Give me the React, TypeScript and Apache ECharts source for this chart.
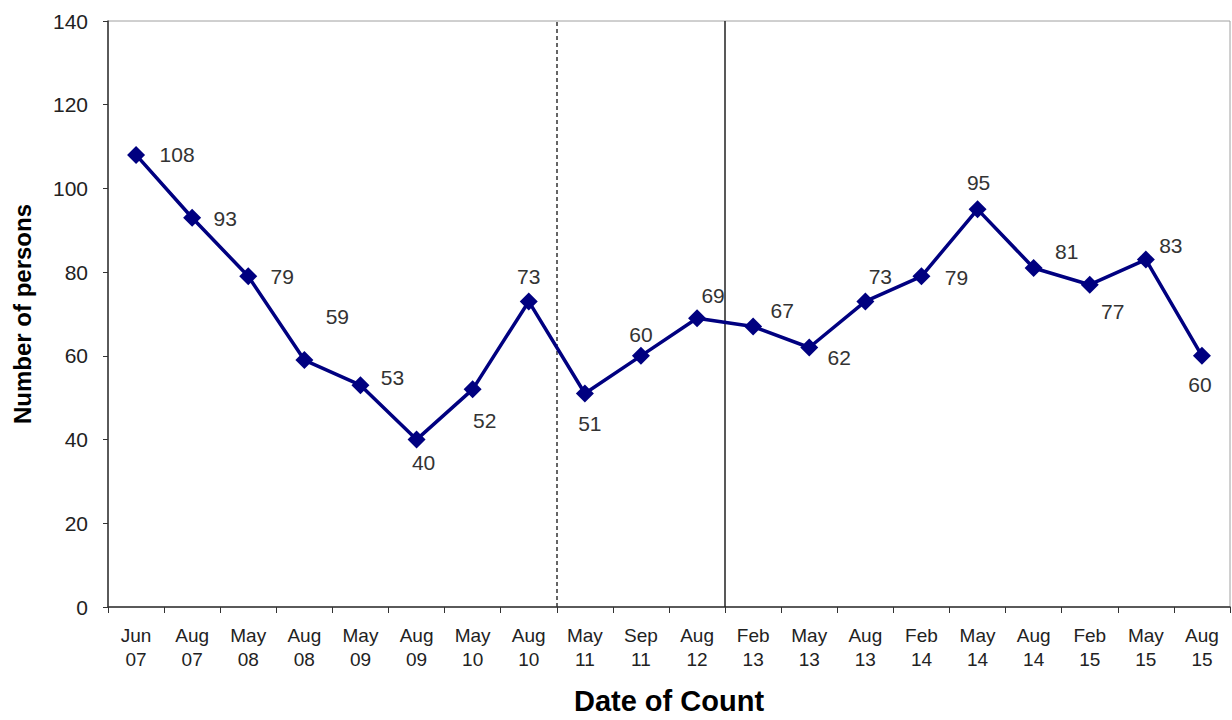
import React, { useEffect, useRef } from "react";
import * as echarts from "echarts";

const categories = [
  "Jun 07", "Aug 07", "May 08", "Aug 08", "May 09", "Aug 09", "May 10", "Aug 10",
  "May 11", "Sep 11", "Aug 12", "Feb 13", "May 13", "Aug 13", "Feb 14", "May 14",
  "Aug 14", "Feb 15", "May 15", "Aug 15",
];
const persons = [108, 93, 79, 59, 53, 40, 52, 73, 51, 60, 69, 67, 62, 73, 79, 95, 81, 77, 83, 60];
const labelOffsets: [number, number][] = [
  [41, 0], [33, 1], [34, 0], [33, -44], [32, -8], [7, 23], [12, 31], [0, -25],
  [5, 30], [0, -21], [16, -23], [29, -16], [30, 10], [15, -25], [35, 1], [1, -27],
  [33, -16], [23, 27], [25, -14], [-2, 29],
];
const yTicks = { min: 0, max: 140, interval: 20 };
const dividers = [8, 11];

const FONT = "'Liberation Sans', Arial, sans-serif";

export default function App() {
  const ref = useRef<HTMLDivElement>(null);
  useEffect(() => {
    if (!ref.current) return;
    const chart = echarts.init(ref.current, null, { renderer: "svg" });
    chart.setOption({
      animation: false,
      backgroundColor: "#ffffff",
      textStyle: { fontFamily: FONT },
      grid: {
        left: 108, right: 2, top: 21, bottom: 104, containLabel: false,
        show: true, borderColor: "#a0a0a0", borderWidth: 1, backgroundColor: "transparent",
      },
      xAxis: [
        {
          type: "category",
          data: categories,
          boundaryGap: true,
          axisLine: { show: true, lineStyle: { color: "#333", width: 1.5 } },
          axisTick: { show: true, length: 6, lineStyle: { color: "#333" } },
          axisLabel: {
            interval: 0, fontSize: 19, color: "#222", lineHeight: 24, margin: 16,
            fontFamily: FONT,
            formatter: (v: string) => v.replace(" ", "\n"),
          },
          name: "Date of Count",
          nameLocation: "middle",
          nameGap: 79,
          nameTextStyle: { fontSize: 29, fontWeight: "bold", color: "#000", fontFamily: FONT },
          splitLine: { show: false },
        },
        { type: "value", min: 0, max: categories.length, show: false, gridIndex: 0 },
      ],
      yAxis: {
        type: "value",
        min: yTicks.min, max: yTicks.max, interval: yTicks.interval,
        axisLine: { show: true, lineStyle: { color: "#333", width: 1.5 } },
        axisTick: { show: true, length: 5, lineStyle: { color: "#333" } },
        axisLabel: { fontSize: 21, color: "#222", margin: 20, fontFamily: FONT },
        splitLine: { show: false },
        name: "Number of persons",
        nameLocation: "middle",
        nameGap: 74,
        nameTextStyle: { fontSize: 24, fontWeight: "bold", color: "#000", fontFamily: FONT },
      },
      series: [
        {
          type: "line",
          xAxisIndex: 0,
          data: persons.map((v, i) => ({ value: v, label: { offset: labelOffsets[i] } })),
          symbol: "diamond",
          symbolSize: 18,
          lineStyle: { color: "#000080", width: 3.5 },
          itemStyle: { color: "#000080" },
          label: {
            show: true, position: "inside", fontSize: 21, color: "#333",
            fontFamily: FONT, align: "center", verticalAlign: "middle",
          },
          z: 5,
        },
        {
          type: "line",
          xAxisIndex: 1,
          data: [],
          silent: true,
          markLine: {
            silent: true,
            symbol: ["none", "none"],
            label: { show: false },
            data: [
              { xAxis: dividers[0], lineStyle: { type: [4, 3], color: "#333", width: 1.5 } },
              { xAxis: dividers[1], lineStyle: { type: "solid", color: "#222", width: 1.5 } },
            ],
          },
        },
      ],
    });
    return () => chart.dispose();
  }, []);
  return (
    <div
      ref={ref}
      style={{ position: "absolute", left: 0, top: 0, width: 1232, height: 720 }}
    />
  );
}
